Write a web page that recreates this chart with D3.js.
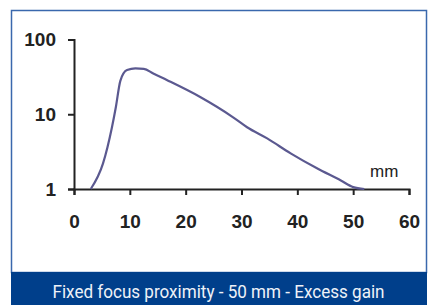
<!DOCTYPE html>
<html>
<head>
<meta charset="utf-8">
<script src="https://cdn.jsdelivr.net/npm/d3@7"></script>
<style>
  body { margin: 0; background: #fff; }
  svg { display: block; }
</style>
</head>
<body>
<svg id="chart" width="436" height="305"></svg>
<script>
// distance (mm) vs excess gain
const distance = [3, 5.2, 6.8, 7.5, 8.3, 9.5, 11, 12.5, 14.2, 16.7, 22.6, 28.5, 31, 34.6, 38.8, 43.6, 47.8, 50, 52];
const gain = [1, 2.2, 6.7, 12.5, 28, 39, 41, 40.5, 35, 28.5, 17, 9.1, 6.7, 4.75, 3.0, 1.88, 1.3, 1.06, 1];
const xTicks = [0, 10, 20, 30, 40, 50, 60];
const yTicks = [1, 10, 100];
const caption = "Fixed focus proximity - 50 mm - Excess gain";

const svg = d3.select("#chart");

// frame + caption band
svg.append("rect")
  .attr("x", 11.5).attr("y", 10.5)
  .attr("width", 415).attr("height", 262)
  .attr("fill", "#fff")
  .attr("stroke", "#3a68ad")
  .attr("stroke-width", 1.5);

svg.append("rect")
  .attr("x", 11).attr("y", 272)
  .attr("width", 416).attr("height", 33)
  .attr("fill", "#003f8b");

svg.append("text")
  .attr("x", 52.5).attr("y", 298)
  .attr("font-family", "Roboto, sans-serif")
  .attr("font-size", 18.5)
  .attr("fill", "#eef2f8")
  .attr("textLength", 332)
  .attr("lengthAdjust", "spacingAndGlyphs")
  .text(caption);

// scales
const x = d3.scaleLinear().domain([0, 60]).range([74, 409]);
const y = d3.scaleLog().domain([1, 100]).range([189, 39.5]);

// axes
const yAxis = svg.append("g")
  .attr("transform", `translate(${x(0)},0)`)
  .call(d3.axisLeft(y).tickValues(yTicks).tickSize(6).tickPadding(12)
    .tickFormat(d3.format("d")));

const xAxis = svg.append("g")
  .attr("transform", `translate(0,${y(1)})`)
  .call(d3.axisBottom(x).tickValues(xTicks).tickSize(6).tickPadding(20));

[xAxis, yAxis].forEach((g) => {
  g.selectAll("path, line")
    .attr("stroke", "#222")
    .attr("stroke-width", 2);
  g.selectAll("text")
    .attr("fill", "#222")
    .attr("font-family", "'Liberation Sans', Arial, sans-serif")
    .attr("font-weight", "bold")
    .attr("font-size", 19);
});

// unit label
svg.append("text")
  .attr("x", 370).attr("y", 177)
  .attr("font-family", "'Liberation Sans', Arial, sans-serif")
  .attr("font-size", 17)
  .attr("fill", "#222")
  .text("mm");

// gain curve
const line = d3.line()
  .x((d) => x(d[0]))
  .y((d) => y(d[1]))
  .curve(d3.curveMonotoneX);

svg.append("path")
  .datum(distance.map((d, i) => [d, gain[i]]))
  .attr("fill", "none")
  .attr("stroke", "#5b5990")
  .attr("stroke-width", 2.2)
  .attr("stroke-linejoin", "round")
  .attr("d", line);
</script>
</body>
</html>
